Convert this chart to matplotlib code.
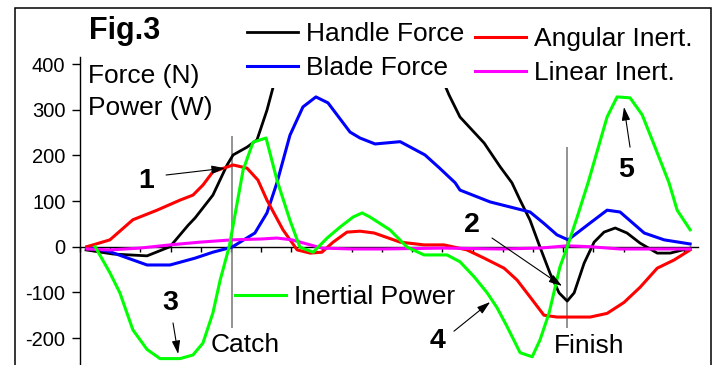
import matplotlib
matplotlib.use("Agg")
import matplotlib.pyplot as plt
from matplotlib.patches import Rectangle

plt.rcParams['font.family'] = ['Liberation Sans', 'DejaVu Sans']

# stroke samples (x in tick units along the stroke cycle)
handle_x = [0.2, 1.09, 2.22, 2.98, 3.58, 3.81, 4.40, 4.87, 5.07, 5.53, 5.86, 6.19, 6.42, 6.95, 8.28,
            9.93, 11.26, 12.22, 12.58, 13.38, 13.91, 14.30, 14.57, 14.90, 15.23, 15.56, 15.86, 16.13,
            16.36, 16.69, 17.02, 17.35, 17.72, 18.11, 18.54, 19.11, 19.54, 20.2]
handle_y = [-7, -16, -20, 0, 47, 63, 113, 179, 201, 218, 234, 299, 356, 500, 620,
            600, 480, 332, 284, 227, 175, 140, 102, 58, -1, -58, -101, -119,
            -101, -36, 10, 32, 41, 30, 8, -14, -14, -3]

blade_x = [0.23, 0.99, 2.22, 2.98, 3.81, 4.40, 5.03, 5.79, 6.19, 6.52, 6.95, 7.38, 7.81, 8.21, 8.94,
           9.27, 9.77, 10.60, 11.42, 11.89, 12.42, 12.58, 13.58, 14.90, 15.36, 15.79, 16.16, 16.89,
           17.45, 17.88, 18.68, 19.34, 20.2]
blade_y = [-1, -11, -40, -40, -25, -12, -1, 30, 74, 140, 244, 306, 328, 315, 251,
           238, 225, 230, 201, 173, 140, 124, 98, 76, 51, 26, 15, 52,
           80, 76, 30, 15, 6]

angular_x = [0.23, 0.99, 1.75, 2.55, 3.31, 3.74, 4.07, 4.40, 5.07, 5.53, 5.89, 6.19, 6.72, 7.19, 7.62,
             8.01, 8.38, 8.84, 9.27, 9.74, 10.60, 11.39, 12.05, 12.81, 13.38, 14.04, 14.47, 14.90,
             15.36, 15.79, 16.89, 17.45, 18.01, 18.54, 19.11, 19.67, 20.2]
angular_y = [0, 15, 59, 80, 102, 113, 135, 164, 179, 172, 146, 102, 37, -7, -14,
             -12, 10, 32, 34, 30, 10, 4, 4, -7, -25, -47, -73, -110,
             -150, -154, -154, -146, -122, -89, -47, -29, -7]

linear_x = [0.23, 0.99, 1.99, 2.98, 3.97, 5.03, 6.03, 6.52, 7.02, 7.62, 8.01, 9.01, 10.0, 12.02,
            13.91, 15.23, 16.13, 16.89, 17.88, 19.21, 20.2]
linear_y = [-5, -7, -3, 4, 10, 15, 17, 19, 15, 4, -3, -5, -5, -3,
            -5, -3, 2, 0, -5, -5, -5]

power_x = [0.5, 0.99, 1.32, 1.75, 2.22, 2.65, 3.31, 3.74, 4.07, 4.40, 4.64, 4.94, 5.40, 5.73, 6.16,
           6.52, 6.95, 7.28, 7.72, 8.18, 8.61, 9.04, 9.34, 9.60, 10.26, 10.83, 11.39, 12.15, 12.58,
           13.05, 13.48, 13.81, 14.14, 14.57, 14.97, 15.23, 15.53, 15.89, 16.13, 16.46, 16.82,
           17.45, 17.78, 18.21, 18.61, 18.99, 19.50, 19.77, 20.2]
power_y = [0, -57, -101, -182, -225, -245, -245, -237, -211, -145, -73, 0, 168, 229, 238,
           146, 58, -1, -12, 19, 43, 65, 74, 65, 37, -1, -18, -18, -33,
           -66, -101, -134, -175, -232, -241, -204, -145, -44, -1, 65, 140,
           284, 328, 326, 289, 226, 140, 80, 37]

catch_x = 5.02
finish_x = 16.13
y_ticks = [-200, -100, 0, 100, 200, 300, 400]

fs_leg = 19
fs_bold = 20.5

fig = plt.figure(figsize=(7.17, 3.65), dpi=100)
ax = fig.add_axes([80 / 717, 0, 618 / 717, 308 / 365])

lw = 2.2
h1, = ax.plot(handle_x, handle_y, color='black', lw=2.0, zorder=3, label='Handle Force')
h2, = ax.plot(blade_x, blade_y, color='#0000FF', lw=lw, zorder=3, label='Blade Force')
h3, = ax.plot(angular_x, angular_y, color='#FF0000', lw=lw, zorder=3, label='Angular Inert.')
h4, = ax.plot(linear_x, linear_y, color='#FF00FF', lw=lw, zorder=3, label='Linear Inert.')
h5, = ax.plot(power_x, power_y, color='#00FF00', lw=lw, zorder=3, label='Inertial Power')

ax.vlines(catch_x, -178, 243, color='#808080', lw=1.2, zorder=2.8)
ax.vlines(finish_x, -178, 218, color='#808080', lw=1.2, zorder=2.8)

ax.set_xlim(0, 20.46)
ax.set_ylim(-259, 415.4)
ax.set_xticks(range(0, 21))
ax.set_xticklabels([])
ax.set_yticks(y_ticks)
ax.set_yticklabels([str(v) for v in y_ticks])
ax.tick_params(axis='y', direction='out', length=5.5, width=1, pad=5, labelsize=14.5)
ax.tick_params(axis='x', direction='out', length=3.6, width=1)
ax.spines['bottom'].set_position(('data', 0))
ax.spines['top'].set_visible(False)
ax.spines['right'].set_visible(False)
for s in ('left', 'bottom'):
    ax.spines[s].set_linewidth(1.0)
ax.patch.set_visible(False)

# text labels
ax.text(0.30, 455, 'Fig.3', fontsize=22, fontweight='bold', ha='left', va='baseline')
ax.text(0.26, 358, 'Force (N)', fontsize=fs_leg, ha='left', va='baseline')
ax.text(0.26, 288, 'Power (W)', fontsize=fs_leg, ha='left', va='baseline')
ax.text(5.48, -230.6, 'Catch', fontsize=fs_leg, ha='center', va='baseline')
ax.text(16.85, -232.8, 'Finish', fontsize=fs_leg, ha='center', va='baseline')

notes = [('1', (2.19, 128), (2.85, 157), (4.80, 172)),
         ('2', (12.98, 32), (13.64, 19), (15.96, -86)),
         ('3', (2.98, -139), (3.08, -167), (3.25, -235)),
         ('4', (11.84, -222), (12.38, -185), (13.58, -121)),
         ('5', (18.08, 153), (18.21, 218), (18.01, 306))]
for label, pos, start, end in notes:
    ax.text(pos[0], pos[1], label, fontsize=fs_bold, fontweight='bold', ha='center', va='baseline')
    ax.annotate('', xy=end, xytext=start,
                arrowprops=dict(arrowstyle='-|>,head_length=0.8,head_width=0.25',
                                color='black', lw=0.8, shrinkA=0, shrinkB=0,
                                mutation_scale=10),
                zorder=4)

# legends
common = dict(loc='upper left', fontsize=fs_leg, handlelength=1.95, handletextpad=0.27,
              labelspacing=0.4, borderpad=0.3, borderaxespad=0)
fig.legend(handles=[h1, h2], bbox_to_anchor=(239 / 717, 1 - 14 / 365),
           frameon=True, facecolor='white', edgecolor='none', framealpha=1,
           fancybox=False, **common)
fig.legend(handles=[h3, h4], bbox_to_anchor=(467 / 717, 1 - 19 / 365), frameon=False, **common)
fig.legend(handles=[h5], bbox_to_anchor=(227 / 717, 1 - 277 / 365), frameon=False, **common)

# outer chart border
fig.add_artist(Rectangle((14.5 / 717, -0.05), 696.5 / 717, 1.05 - 8 / 365,
                         transform=fig.transFigure, fill=False, edgecolor='black', lw=1.1))

fig.savefig('out.png', dpi=100)
